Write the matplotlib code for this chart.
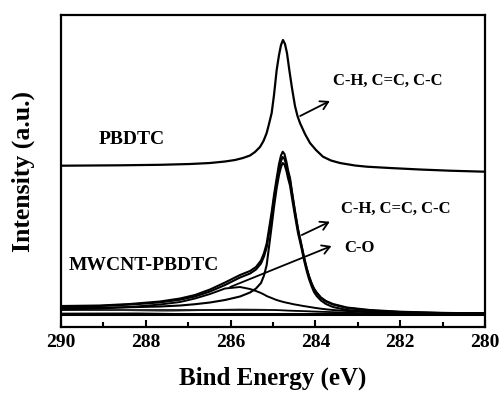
import matplotlib
matplotlib.use("Agg")
import matplotlib.pyplot as plt
from matplotlib.ticker import MultipleLocator

plt.rcParams['font.family'] = ['Liberation Serif', 'DejaVu Serif']
plt.rcParams['font.weight'] = 'bold'

# PBDTC spectrum (binding energy in eV, intensity in a.u.)
e_pbdtc = [290.000, 288.608, 287.665, 286.958, 286.486, 286.132, 285.896, 285.708, 285.542,
           285.425, 285.307, 285.224, 285.149, 285.094, 285.031, 284.976, 284.913, 284.858,
           284.811, 284.764, 284.717, 284.670, 284.615, 284.552, 284.481, 284.422, 284.363,
           284.245, 284.127, 283.986, 283.821, 283.632, 283.420, 283.066, 282.783, 282.241,
           281.533, 280.825, 280.000]
i_pbdtc = [161.3, 161.7, 162.2, 163.0, 164.0, 165.5, 167.0, 169.0, 171.5,
           175.0, 180.0, 186.0, 194.0, 203.0, 214.0, 232.0, 257.0, 272.0,
           282.0, 287.0, 283.0, 274.0, 257.0, 239.0, 221.0, 211.0, 204.0,
           193.0, 184.0, 177.0, 170.3, 166.5, 164.0, 161.5, 160.3, 159.0,
           157.5, 156.3, 155.3]

# MWCNT-PBDTC spectrum and its fitted components (shared energy grid)
e_mw = [290.000, 289.080, 288.373, 287.665, 287.193, 286.840, 286.486, 286.132, 285.778,
        285.542, 285.401, 285.283, 285.212, 285.149, 285.094, 285.031, 284.976, 284.913,
        284.858, 284.811, 284.771, 284.729, 284.682, 284.646, 284.599, 284.540, 284.481,
        284.410, 284.323, 284.269, 284.205, 284.151, 284.087, 284.033, 283.969, 283.868,
        283.750, 283.585, 283.255, 282.712, 282.005, 281.061, 280.000]
i_envelope = [21.0, 21.5, 23.0, 25.5, 28.5, 32.0, 37.5, 44.5, 52.0,
              56.0, 60.0, 66.5, 74.0, 83.5, 98.0, 115.0, 132.0, 149.0,
              163.0, 171.5, 175.3, 173.0, 165.0, 157.0, 149.0, 132.0, 116.0,
              98.0, 81.0, 70.0, 59.0, 51.0, 43.5, 38.5, 34.5, 29.5,
              26.0, 23.0, 19.5, 17.0, 15.3, 14.2, 13.5]
i_raw = [20.5, 21.0, 22.4, 24.6, 27.3, 30.5, 35.5, 42.0, 49.5,
         53.5, 57.5, 63.5, 70.5, 79.5, 94.0, 111.0, 128.0, 145.0,
         158.0, 166.0, 170.0, 168.0, 161.0, 154.0, 147.0, 131.0, 115.0,
         97.5, 80.5, 69.5, 58.5, 50.5, 43.0, 38.0, 34.0, 29.0,
         25.5, 22.5, 19.0, 16.5, 15.0, 14.0, 13.5]
i_ch = [19.0, 19.3, 19.8, 20.5, 21.5, 22.8, 24.5, 27.0, 30.5,
        34.5, 38.5, 44.0, 51.5, 62.0, 80.0, 101.0, 120.0, 139.0,
        152.0, 160.0, 164.0, 162.5, 156.0, 149.0, 141.5, 126.0, 111.0,
        94.0, 78.0, 67.0, 56.0, 48.0, 40.5, 35.0, 31.0, 26.5,
        23.0, 20.0, 17.0, 15.0, 14.0, 13.5, 13.5]
i_co = [17.5, 18.5, 20.0, 22.5, 25.0, 28.5, 33.0, 38.5, 40.0,
        38.0, 36.0, 34.0, 32.5, 31.0, 30.0, 29.0, 28.0, 27.0,
        26.3, 25.7, 25.2, 24.8, 24.3, 24.0, 23.6, 23.0, 22.5,
        22.0, 21.3, 20.9, 20.5, 20.1, 19.7, 19.3, 18.9, 18.3,
        17.7, 17.0, 16.0, 15.0, 14.0, 13.6, 13.5]

# backgrounds and a small extra component
e_bg = [290.0, 285.0, 283.0, 280.0]
i_bg_upper = [17.0, 17.0, 14.0, 14.0]
i_bg_lower = [13.5, 13.5, 13.5, 13.5]
e_small = [290.0, 288.5, 287.5, 286.5, 285.8, 285.2, 284.5, 283.8, 283.0, 280.0]
i_small = [14.0, 14.3, 15.5, 17.0, 18.0, 17.5, 16.0, 14.8, 14.0, 14.0]

fig = plt.figure(figsize=(5.02, 3.97), dpi=100)
ax = fig.add_axes([0.1215, 0.1763, 0.8446, 0.7859])

ax.plot(e_small, i_small, color='#888888', lw=1.0)
ax.plot(e_bg, i_bg_upper, color='black', lw=1.2)
ax.plot(e_bg, i_bg_lower, color='black', lw=2.2)
ax.plot(e_mw, i_co, color='black', lw=1.4)
ax.plot(e_mw, i_ch, color='black', lw=1.5)
ax.plot(e_mw, i_raw, color='black', lw=1.5)
ax.plot(e_mw, i_envelope, color='black', lw=1.5)
ax.plot(e_pbdtc, i_pbdtc, color='black', lw=1.6)

ax.set_xlim(290, 280)
ax.set_ylim(0, 312)

ax.xaxis.set_major_locator(MultipleLocator(2))
ax.xaxis.set_minor_locator(MultipleLocator(1))
ax.set_yticks([])
ax.tick_params(axis='x', which='major', direction='in', length=5, width=1.5,
               labelsize=14, pad=5)
ax.tick_params(axis='x', which='minor', direction='in', length=3.5, width=1.5)
for sp in ax.spines.values():
    sp.set_linewidth(1.6)

ax.set_xlabel('Bind Energy (eV)', fontsize=18, fontweight='bold', labelpad=11.5)
ax.set_ylabel('Intensity (a.u.)', fontsize=18.5, fontweight='bold', labelpad=19)

txt = dict(ha='center', va='center', fontweight='bold')
ax.text(288.34, 188, 'PBDTC', fontsize=14, **txt)
ax.text(288.04, 61.3, 'MWCNT-PBDTC', fontsize=14, **txt)
ax.text(282.30, 246, 'C-H, C=C, C-C', fontsize=12, **txt)
ax.text(282.10, 118, 'C-H, C=C, C-C', fontsize=12, **txt)
ax.text(282.95, 79, 'C-O', fontsize=12, **txt)

arrow = dict(arrowstyle='->,head_length=0.55,head_width=0.32', color='black', lw=1.3,
             shrinkA=0, shrinkB=0)
ax.annotate('', xy=(283.66, 226), xytext=(284.36, 211), arrowprops=arrow)
ax.annotate('', xy=(283.66, 105.3), xytext=(284.32, 92), arrowprops=arrow)
ax.annotate('', xy=(283.62, 81), xytext=(286.01, 40), arrowprops=arrow)

fig.savefig('out.png', dpi=100)
